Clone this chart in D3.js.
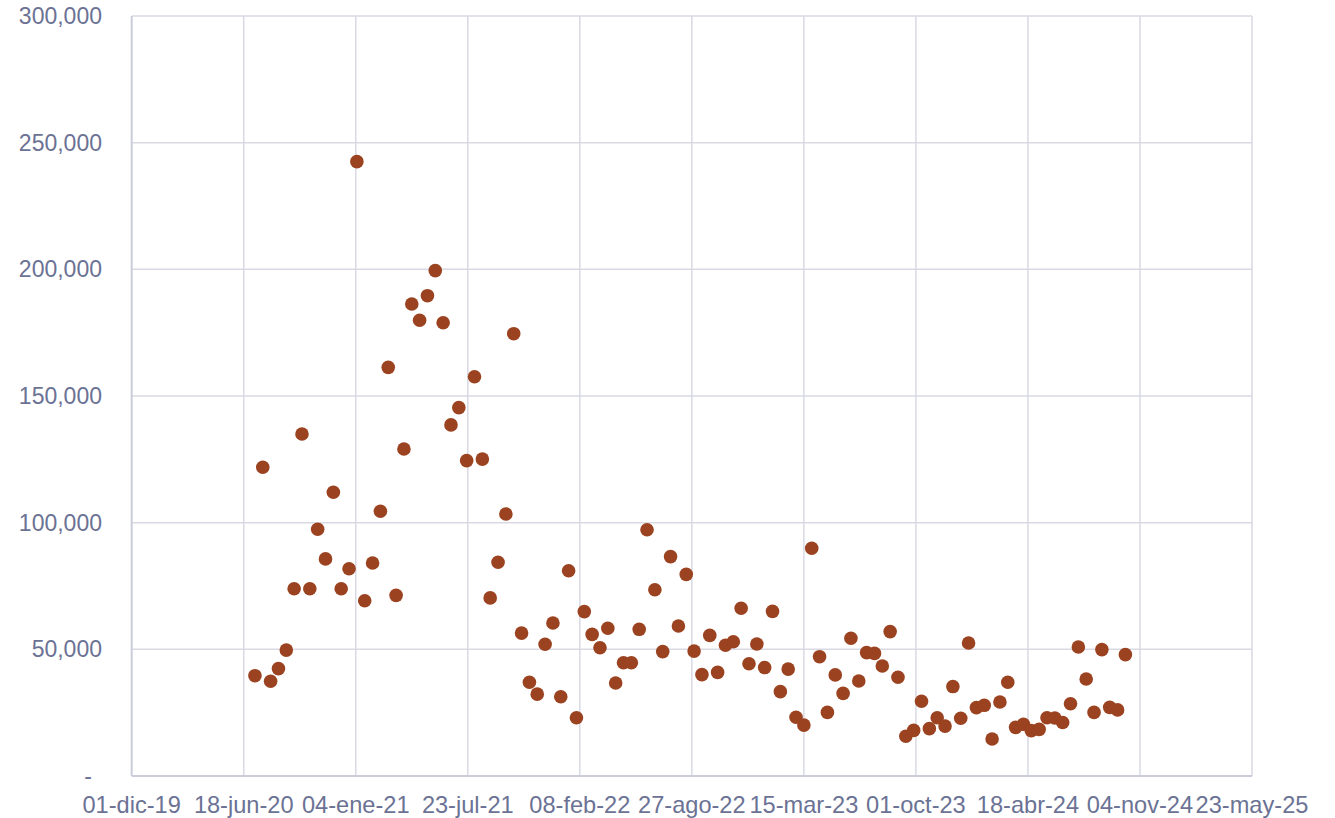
<!DOCTYPE html>
<html lang="es">
<head>
<meta charset="UTF-8" />
<title>scatter</title>
<style>
  * { margin:0; padding:0; box-sizing:border-box; }
  body { background:#fff; width:1335px; height:818px; overflow:hidden; }
  svg { display:block; }
  .tick-label { font-family:'Liberation Sans',Arial,sans-serif; font-size:23px; fill:#6b7294; }
  .tick-label.x { font-size:23.6px; }
  .grid line { stroke:#d9d9e4; stroke-width:1.5px; }
  .axis-line { stroke:#cbccd9; stroke-width:2px; }
  .dot { fill:#9b4220; }
</style>
</head>
<body>
<script src="https://d3js.org/d3.v7.min.js"></script>
<script>
  // fechas de cada punto (quincenal)
  const dates = [
    '2020-07-08','2020-07-22','2020-08-05','2020-08-19','2020-09-02','2020-09-16','2020-09-30','2020-10-14',
    '2020-10-28','2020-11-11','2020-11-25','2020-12-09','2020-12-23',
    '2021-01-06','2021-01-20','2021-02-03','2021-02-17','2021-03-03','2021-03-17','2021-03-31','2021-04-14',
    '2021-04-28','2021-05-12','2021-05-26','2021-06-09','2021-06-23','2021-07-07','2021-07-21','2021-08-04',
    '2021-08-18','2021-09-01','2021-09-15','2021-09-29','2021-10-13','2021-10-27','2021-11-10','2021-11-24',
    '2021-12-08','2021-12-22',
    '2022-01-05','2022-01-19','2022-02-02','2022-02-16','2022-03-02','2022-03-16','2022-03-30','2022-04-13',
    '2022-04-27','2022-05-11','2022-05-25','2022-06-08','2022-06-22','2022-07-06','2022-07-20','2022-08-03',
    '2022-08-17','2022-08-31','2022-09-14','2022-09-28','2022-10-12','2022-10-26','2022-11-09','2022-11-23',
    '2022-12-07','2022-12-21',
    '2023-01-04','2023-01-18','2023-02-01','2023-02-15','2023-03-01','2023-03-15','2023-03-29','2023-04-12',
    '2023-04-26','2023-05-10','2023-05-24','2023-06-07','2023-06-21','2023-07-05','2023-07-19','2023-08-02',
    '2023-08-16','2023-08-30','2023-09-13','2023-09-27','2023-10-11','2023-10-25','2023-11-08','2023-11-22',
    '2023-12-06','2023-12-20',
    '2024-01-03','2024-01-17','2024-01-31','2024-02-14','2024-02-28','2024-03-13','2024-03-27','2024-04-10',
    '2024-04-24','2024-05-08','2024-05-22','2024-06-05','2024-06-19','2024-07-03','2024-07-17','2024-07-31',
    '2024-08-14','2024-08-28','2024-09-11','2024-09-25','2024-10-09'
  ];
  const values = [
    39600,121900,37400,42400,49700,73900,135000,73900,
    97400,85700,112000,73900,81800,
    242500,69200,84100,104500,161300,71300,129100,186300,
    179900,189600,199500,178900,138600,145400,124500,157600,
    125100,70300,84400,103400,174600,56400,37000,32300,
    52000,60400,
    31300,81000,23000,64900,55900,50600,58300,36700,
    44700,44700,57900,97200,73500,49100,86600,59200,
    79600,49300,40000,55500,40900,51600,53000,66200,
    44300,52100,
    42800,65000,33300,42200,23200,20100,89900,47100,
    25100,39900,32600,54400,37500,48700,48400,43400,
    57000,39000,15700,18000,29500,18700,23000,19700,
    35300,22800,
    52500,27000,27900,14600,29200,37000,19200,20400,
    17900,18400,23000,22900,21100,28500,50900,38300,
    25100,49900,27100,26100,47900
  ];
  const xTicks = ['2019-12-01','2020-06-18','2021-01-04','2021-07-23','2022-02-08','2022-08-27',
    '2023-03-15','2023-10-01','2024-04-18','2024-11-04','2025-05-23'];
  const yTicks = [0,50000,100000,150000,200000,250000,300000];
  const monthsEs = ['ene','feb','mar','abr','may','jun','jul','ago','sep','oct','nov','dic'];

  const W = 1335, H = 818;
  const margin = { top:16, right:83, bottom:42, left:131.7 };
  const parse = d3.utcParse('%Y-%m-%d');
  const data = dates.map((d,i) => ({ date:parse(d), value:values[i] }));

  const x = d3.scaleUtc()
    .domain([parse(xTicks[0]), parse(xTicks[xTicks.length-1])])
    .range([margin.left, W - margin.right]);
  const y = d3.scaleLinear()
    .domain([0, 300000])
    .range([H - margin.bottom, margin.top]);

  const fmtDate = d => d3.utcFormat('%d')(d) + '-' + monthsEs[d.getUTCMonth()] + '-' + d3.utcFormat('%y')(d);
  const fmtNum = d3.format(',');

  const svg = d3.select('body').append('svg').attr('width', W).attr('height', H);

  // rejilla
  const grid = svg.append('g').attr('class','grid');
  grid.selectAll('line.h').data(yTicks.slice(1)).join('line').attr('class','h')
    .attr('x1', margin.left).attr('x2', W - margin.right)
    .attr('y1', d => y(d)).attr('y2', d => y(d));
  grid.selectAll('line.v').data(xTicks.slice(1)).join('line').attr('class','v')
    .attr('x1', d => x(parse(d))).attr('x2', d => x(parse(d)))
    .attr('y1', margin.top).attr('y2', H - margin.bottom);

  // ejes
  svg.append('line').attr('class','axis-line')
    .attr('x1', margin.left).attr('x2', margin.left)
    .attr('y1', margin.top).attr('y2', H - margin.bottom);
  svg.append('line').attr('class','axis-line')
    .attr('x1', margin.left).attr('x2', W - margin.right)
    .attr('y1', H - margin.bottom).attr('y2', H - margin.bottom);

  svg.append('g').selectAll('text').data(yTicks).join('text')
    .attr('class','tick-label')
    .attr('text-anchor','end')
    .attr('x', d => d === 0 ? 92 : 102)
    .attr('y', d => y(d))
    .attr('dy','0.35em')
    .text(d => d === 0 ? '-' : fmtNum(d));

  svg.append('g').selectAll('text').data(xTicks).join('text')
    .attr('class','tick-label x')
    .attr('text-anchor','middle')
    .attr('x', d => x(parse(d)))
    .attr('y', 813)
    .text(d => fmtDate(parse(d)));

  // puntos
  svg.append('g').selectAll('circle').data(data).join('circle')
    .attr('class','dot')
    .attr('cx', d => x(d.date))
    .attr('cy', d => y(d.value))
    .attr('r', 6.8);
</script>
</body>
</html>
